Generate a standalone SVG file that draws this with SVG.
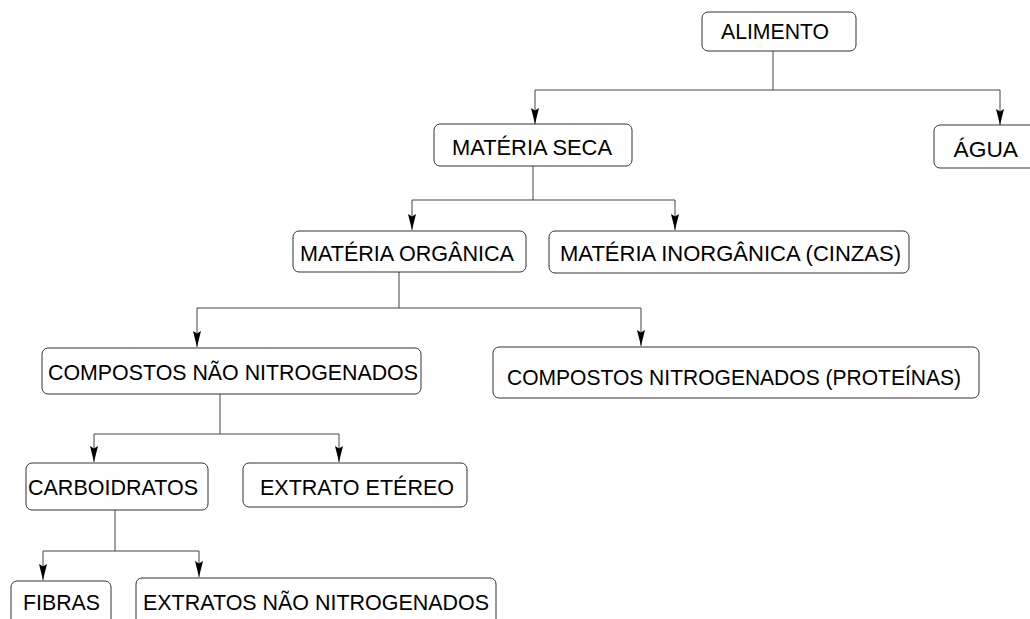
<svg xmlns="http://www.w3.org/2000/svg" width="1030" height="619" viewBox="0 0 1030 619">
<style>
.box{fill:#fff;stroke:#333;stroke-width:1}
.lbl{font-family:"Liberation Sans",Arial,sans-serif;font-size:22.5px;fill:#000}
.con{fill:none;stroke:#444;stroke-width:1}
</style>
<defs>
<marker id="ah" viewBox="0 -5 17 10" refX="16" refY="0" markerWidth="17" markerHeight="10" markerUnits="userSpaceOnUse" orient="auto">
<path d="M0,-4 L16,0 L0,4 L2.5,0 Z" fill="#000"/>
</marker>
</defs>
<rect width="1030" height="619" fill="#fff"/>
<g id="connectors">
<path class="con" d="M773,51 V90 H535 V124" marker-end="url(#ah)"/>
<path class="con" d="M773,90 H1000 V125" marker-end="url(#ah)"/>
<path class="con" d="M533,166 V200 H412 V230" marker-end="url(#ah)"/>
<path class="con" d="M533,200 H675 V230" marker-end="url(#ah)"/>
<path class="con" d="M399,272 V308 H197 V347" marker-end="url(#ah)"/>
<path class="con" d="M399,308 H641 V346" marker-end="url(#ah)"/>
<path class="con" d="M220,394 V434 H94 V462" marker-end="url(#ah)"/>
<path class="con" d="M220,434 H339 V462" marker-end="url(#ah)"/>
<path class="con" d="M115,510 V551 H43 V580" marker-end="url(#ah)"/>
<path class="con" d="M115,551 H199 V577" marker-end="url(#ah)"/>
</g>
<g id="alimento"><rect class="box" x="702" y="12" width="154" height="39" rx="6"/><text class="lbl" x="721" y="39.3" textLength="108" lengthAdjust="spacingAndGlyphs">ALIMENTO</text></g>
<g id="materia-seca"><rect class="box" x="434" y="124" width="198" height="42" rx="6"/><text class="lbl" x="452" y="155" textLength="160" lengthAdjust="spacingAndGlyphs">MATÉRIA SECA</text></g>
<g id="agua"><rect class="box" x="934" y="125" width="110" height="43" rx="6"/><text class="lbl" x="953.5" y="157" textLength="64.5" lengthAdjust="spacingAndGlyphs">ÁGUA</text></g>
<g id="materia-organica"><rect class="box" x="293" y="231" width="233" height="41" rx="6"/><text class="lbl" x="300" y="261" textLength="214" lengthAdjust="spacingAndGlyphs">MATÉRIA ORGÂNICA</text></g>
<g id="materia-inorganica"><rect class="box" x="549" y="231" width="360" height="42" rx="6"/><text class="lbl" x="560" y="261" textLength="341" lengthAdjust="spacingAndGlyphs">MATÉRIA INORGÂNICA (CINZAS)</text></g>
<g id="compostos-nao-nitrogenados"><rect class="box" x="42" y="348" width="379" height="46" rx="6"/><text class="lbl" x="48" y="379.5" textLength="370" lengthAdjust="spacingAndGlyphs">COMPOSTOS NÃO NITROGENADOS</text></g>
<g id="compostos-nitrogenados"><rect class="box" x="493" y="347" width="486" height="51" rx="6"/><text class="lbl" x="507" y="385" textLength="454" lengthAdjust="spacingAndGlyphs">COMPOSTOS NITROGENADOS (PROTEÍNAS)</text></g>
<g id="carboidratos"><rect class="box" x="26" y="463" width="182" height="47" rx="6"/><text class="lbl" x="28" y="495" textLength="170" lengthAdjust="spacingAndGlyphs">CARBOIDRATOS</text></g>
<g id="extrato-etereo"><rect class="box" x="243" y="463" width="224" height="44" rx="6"/><text class="lbl" x="260" y="495" textLength="194" lengthAdjust="spacingAndGlyphs">EXTRATO ETÉREO</text></g>
<g id="fibras"><rect class="box" x="11" y="581" width="100" height="50" rx="6"/><text class="lbl" x="23" y="610" textLength="77" lengthAdjust="spacingAndGlyphs">FIBRAS</text></g>
<g id="extratos-nao-nitrogenados"><rect class="box" x="136" y="578" width="360" height="50" rx="6"/><text class="lbl" x="143" y="610" textLength="346" lengthAdjust="spacingAndGlyphs">EXTRATOS NÃO NITROGENADOS</text></g>
</svg>
